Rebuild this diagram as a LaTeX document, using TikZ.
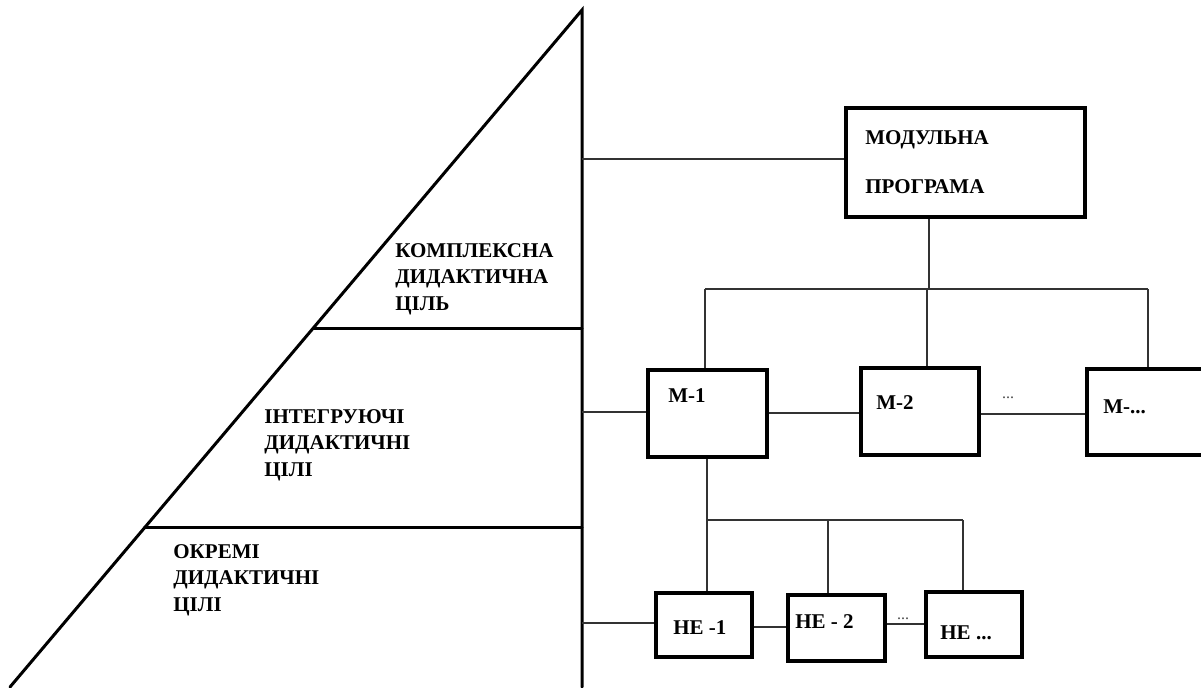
\documentclass[tikz,border=0pt]{standalone}
\usepackage{fontspec}
\setmainfont{Liberation Serif}
\usepackage{tikz}
\usetikzlibrary{positioning, calc}

\begin{document}
\begin{tikzpicture}[
    x=0.5pt, y=-0.5pt,
    tri/.style={line width=1.5pt, line cap=round},
    box/.style={rectangle, draw, line width=1.7pt, inner sep=0pt},
    wire/.style={draw=black!80, line width=0.6pt},
    txt/.style={anchor=west, inner sep=0pt, align=left, font=\fontsize{10.5}{13.2}\selectfont\bfseries},
    gap/.style={inner sep=0pt, font=\fontsize{8}{9}\selectfont, text=black!70}
]

\useasboundingbox[fill=white] (0,0) rectangle (1201,687);

% Triangle of goals
\coordinate (apex) at (582,10);
\coordinate (base) at (10,687);
\coordinate (foot) at (582,687);
\draw[tri] (base) -- (apex) -- (foot);
\coordinate (cut1) at ($(base)!0.530!(apex)$);
\coordinate (cut2) at ($(base)!0.2349!(apex)$);
\draw[tri] (cut1) -- (cut1 -| apex);
\draw[tri] (cut2) -- (cut2 -| apex);

\node[txt] (goalall) at (395,279) {КОМПЛЕКСНА\\ДИДАКТИЧНА\\ЦІЛЬ};
\node[txt] (goalint) at (264,445) {ІНТЕГРУЮЧІ\\ДИДАКТИЧНІ\\ЦІЛІ};
\node[txt] (goalsep) at (173,580) {ОКРЕМІ\\ДИДАКТИЧНІ\\ЦІЛІ};

% Program
\node[box, minimum width=119.5pt, minimum height=54.5pt] (prog) at (965.5,162.5) {};
\node[txt] (progtxt) at (865,162) {МОДУЛЬНА\\[11.5pt]ПРОГРАМА};

% Modules
\node[box, minimum width=59.5pt, minimum height=43.5pt] (m1) at (707.5,413.5) {};
\node[box, minimum width=59pt, minimum height=43.5pt] (m2) at (920,411.5) {};
\node[box, minimum width=58pt, minimum height=43pt] (mn) at (1145,412) {};
\node[txt] (m1txt) at (668,396) {М-1};
\node[txt] (m2txt) at (876,403) {М-2};
\node[txt] (mntxt) at (1103,407) {М-...};

% Learning elements
\node[box, minimum width=48pt, minimum height=32pt] (ne1) at (704,625) {};
\node[box, minimum width=48.5pt, minimum height=33pt] (ne2) at (836.5,628) {};
\node[box, minimum width=48pt, minimum height=32.5pt] (nen) at (974,624.5) {};
\node[txt] (ne1txt) at (673,628) {НЕ -1};
\node[txt] (ne2txt) at (795,622) {НЕ - 2};
\node[txt] (nentxt) at (940,633) {НЕ ...};

% Links from the triangle
\coordinate (s1) at (582,159);
\coordinate (s2) at (582,412);
\coordinate (s3) at (582,623);
\draw[wire] (s1) -- (s1 -| prog.west);
\draw[wire] (s2) -- (s2 -| m1.west);
\draw[wire] (s3) -- (s3 -| ne1.west);

% Program to modules
\coordinate (bus1) at (929,289);
\coordinate (bus1l) at (705,289);
\coordinate (bus1r) at (1148,289);
\draw[wire] (bus1 |- prog.south) -- (bus1);
\draw[wire] (bus1l) -- (bus1r);
\draw[wire] (bus1l) -- (bus1l |- m1.north);
\draw[wire] (927,289) -- (927,0 |- m2.north);
\draw[wire] (bus1r) -- (bus1r |- mn.north);
\draw[wire] (m1.east |- 0,413) -- (m2.west |- 0,413);
\draw[wire] (m2.east |- 0,414) -- (mn.west |- 0,414);
\node[gap] (mdots) at (1008,398) {...};

% Module to elements
\coordinate (bus2l) at (707,520);
\coordinate (bus2r) at (963,520);
\draw[wire] (bus2l |- m1.south) -- (bus2l |- ne1.north);
\draw[wire] (bus2l) -- (bus2r);
\draw[wire] (828,520) -- (828,0 |- ne2.north);
\draw[wire] (bus2r) -- (bus2r |- nen.north);
\draw[wire] (ne1.east |- 0,627) -- (ne2.west |- 0,627);
\draw[wire] (ne2.east |- 0,624) -- (nen.west |- 0,624);
\node[gap] (nedots) at (903,619) {...};

\end{tikzpicture}
\end{document}
